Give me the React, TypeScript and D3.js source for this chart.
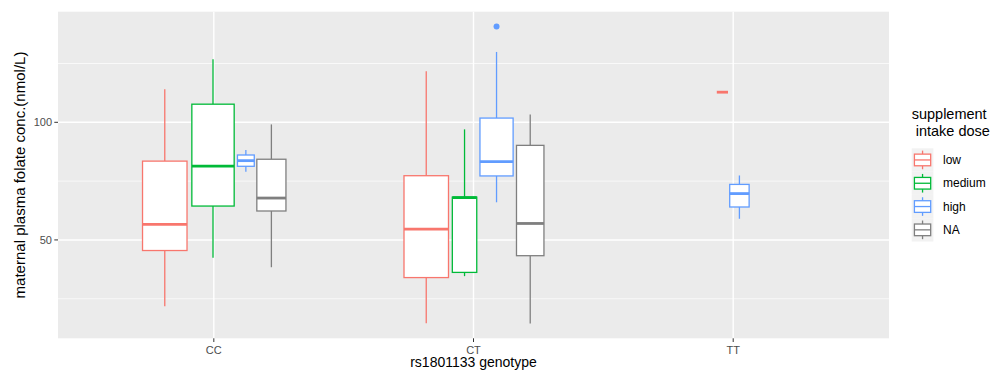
import * as d3 from 'd3';

const genotypes = ['CC', 'CT', 'TT'];
const doses = ['low', 'medium', 'high', 'NA'];
const doseColors = ['#F8766D', '#00BA38', '#619CFF', '#7F7F7F'];

// box stats, n (varwidth)
const lowDose = [
  { genotype: 'CC', n: 63, ymin: 21.8, lower: 45.5, middle: 56.6, upper: 83.5, ymax: 114.0 },
  { genotype: 'CT', n: 63, ymin: 14.6, lower: 34.0, middle: 54.6, upper: 77.3, ymax: 121.7 },
  { genotype: 'TT', n: 1, ymin: 112.8, lower: 112.8, middle: 112.8, upper: 112.8, ymax: 112.8 },
];
const mediumDose = [
  { genotype: 'CC', n: 57, ymin: 42.4, lower: 64.4, middle: 81.4, upper: 107.7, ymax: 126.8 },
  { genotype: 'CT', n: 19, ymin: 34.6, lower: 36.2, middle: 68.0, upper: 68.2, ymax: 97.0 },
];
const highDose = [
  { genotype: 'CC', n: 9, ymin: 79.0, lower: 81.3, middle: 83.7, upper: 86.1, ymax: 88.2 },
  { genotype: 'CT', n: 35, ymin: 66.0, lower: 77.2, middle: 83.3, upper: 101.8, ymax: 129.9 },
  { genotype: 'TT', n: 3, ymin: 59.0, lower: 64.0, middle: 69.7, upper: 73.6, ymax: 77.4 },
];
const naDose = [
  { genotype: 'CC', n: 27, ymin: 38.4, lower: 62.3, middle: 67.8, upper: 84.3, ymax: 99.1 },
  { genotype: 'CT', n: 24, ymin: 14.5, lower: 43.3, middle: 57.0, upper: 90.2, ymax: 103.3 },
];
const outliers = [{ genotype: 'CT', dose: 'high', value: 140.7 }];

const yTicks = [50, 100];
const yMinorTicks = [25, 75, 125];

const byDose = [lowDose, mediumDose, highDose, naDose];
const nFull = 88; // group size that would get the full box width

const W = 994;
const H = 376;
const panel = { left: 58, right: 889, top: 11.7, bottom: 338.3 };
const font = "'Liberation Sans', Arial, Helvetica, sans-serif";

export default function App() {
  const all = byDose.flat();
  const lo = d3.min([...all.map((d) => d.ymin), ...outliers.map((d) => d.value)]);
  const hi = d3.max([...all.map((d) => d.ymax), ...outliers.map((d) => d.value)]);
  const pad = (hi - lo) * 0.05;

  const x = d3.scalePoint().domain(genotypes).range([panel.left, panel.right]).padding(0.6);
  const y = d3.scaleLinear().domain([lo - pad, hi + pad]).range([panel.bottom, panel.top]);
  const step = x.step();

  // dodge2-like placement: boxes side by side, width ~ sqrt(n)
  const boxes = [];
  genotypes.forEach((g) => {
    const here = [];
    byDose.forEach((arr, i) => {
      const d = arr.find((r) => r.genotype === g);
      if (d) here.push({ ...d, dose: doses[i], color: doseColors[i] });
    });
    const k = here.length;
    const slots = here.map((d) => (0.9 * step * Math.sqrt(d.n / nFull)) / k);
    const total = d3.sum(slots);
    let start = x(g) - total / 2;
    here.forEach((d, i) => {
      boxes.push({ ...d, cx: start + slots[i] / 2, w: slots[i] * 0.9 });
      start += slots[i];
    });
  });

  const legendX = 911.7;
  const legendY = 148.3;
  const keyW = 21.7;
  const keyH = 23.3;

  return (
    <svg width={W} height={H} style={{ position: 'absolute', left: 0, top: 0, fontFamily: font }}>
      <rect width={W} height={H} fill="#fff" />
      <rect
        x={panel.left}
        y={panel.top}
        width={panel.right - panel.left}
        height={panel.bottom - panel.top}
        fill="#EBEBEB"
      />
      {yMinorTicks.map((t) => (
        <line key={'mn' + t} x1={panel.left} x2={panel.right} y1={y(t)} y2={y(t)} stroke="#fff" strokeWidth={0.7} />
      ))}
      {yTicks.map((t) => (
        <line key={'mj' + t} x1={panel.left} x2={panel.right} y1={y(t)} y2={y(t)} stroke="#fff" strokeWidth={1.4} />
      ))}
      {genotypes.map((g) => (
        <line key={'vg' + g} x1={x(g)} x2={x(g)} y1={panel.top} y2={panel.bottom} stroke="#fff" strokeWidth={1.4} />
      ))}

      {boxes.map((b, i) => (
        <g key={'b' + i} stroke={b.color} fill="none">
          <line x1={b.cx} x2={b.cx} y1={y(b.ymax)} y2={y(b.upper)} strokeWidth={1.3} />
          <line x1={b.cx} x2={b.cx} y1={y(b.lower)} y2={y(b.ymin)} strokeWidth={1.3} />
          <rect
            x={b.cx - b.w / 2}
            y={y(b.upper)}
            width={b.w}
            height={y(b.lower) - y(b.upper)}
            fill="#fff"
            strokeWidth={1.3}
          />
          <line x1={b.cx - b.w / 2} x2={b.cx + b.w / 2} y1={y(b.middle)} y2={y(b.middle)} strokeWidth={2.8} />
        </g>
      ))}
      {outliers.map((o, i) => {
        const b = boxes.find((d) => d.genotype === o.genotype && d.dose === o.dose);
        return <circle key={'o' + i} cx={b.cx} cy={y(o.value)} r={3} fill={b.color} />;
      })}

      {/* y axis */}
      {yTicks.map((t) => (
        <g key={'yt' + t}>
          <line x1={panel.left - 3.7} x2={panel.left} y1={y(t)} y2={y(t)} stroke="#333" strokeWidth={1} />
          <text x={panel.left - 6} y={y(t)} dy="0.35em" textAnchor="end" fontSize={11} fill="#4D4D4D">
            {t}
          </text>
        </g>
      ))}
      {/* x axis */}
      {genotypes.map((g) => (
        <g key={'xt' + g}>
          <line x1={x(g)} x2={x(g)} y1={panel.bottom} y2={panel.bottom + 3.7} stroke="#333" strokeWidth={1} />
          <text x={x(g)} y={panel.bottom + 15.5} textAnchor="middle" fontSize={11} fill="#4D4D4D">
            {g}
          </text>
        </g>
      ))}
      <text x={(panel.left + panel.right) / 2} y={367} textAnchor="middle" fontSize={14} fill="#000">
        rs1801133 genotype
      </text>
      <text
        transform={`translate(25,${(panel.top + panel.bottom) / 2}) rotate(-90)`}
        textAnchor="middle"
        fontSize={15}
        fill="#000"
      >
        maternal plasma folate conc.(nmol/L)
      </text>

      {/* legend */}
      <text x={legendX} y={119} fontSize={14.5} fill="#000">supplement</text>
      <text x={legendX} y={136} fontSize={14.5} fill="#000" style={{ whiteSpace: 'pre' }}>
        {' intake dose'}
      </text>
      {doses.map((d, i) => {
        const ky = legendY + i * keyH;
        const c = doseColors[i];
        return (
          <g key={'lg' + d}>
            <rect x={legendX} y={ky} width={keyW} height={keyH} fill="#F2F2F2" />
            <line x1={legendX + keyW / 2} x2={legendX + keyW / 2} y1={ky + keyH * 0.1} y2={ky + keyH * 0.25} stroke={c} strokeWidth={1.3} />
            <line x1={legendX + keyW / 2} x2={legendX + keyW / 2} y1={ky + keyH * 0.75} y2={ky + keyH * 0.9} stroke={c} strokeWidth={1.3} />
            <rect
              x={legendX + keyW * 0.125}
              y={ky + keyH * 0.25}
              width={keyW * 0.75}
              height={keyH * 0.5}
              fill="#fff"
              stroke={c}
              strokeWidth={1.3}
            />
            <line x1={legendX + keyW * 0.125} x2={legendX + keyW * 0.875} y1={ky + keyH / 2} y2={ky + keyH / 2} stroke={c} strokeWidth={1.3} />
            <text x={943} y={ky + keyH / 2} dy="0.35em" fontSize={12} fill="#000">
              {d}
            </text>
          </g>
        );
      })}
    </svg>
  );
}
